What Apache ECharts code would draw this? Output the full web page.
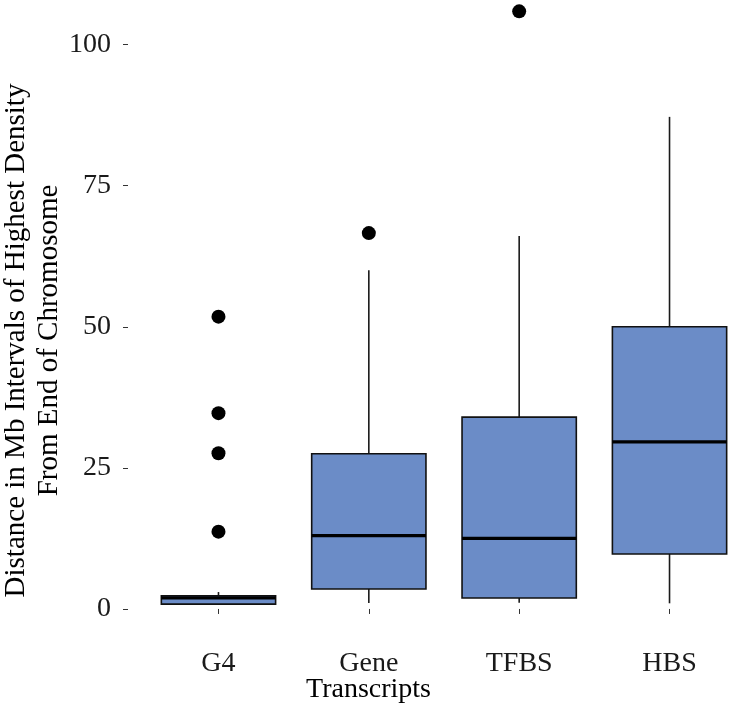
<!DOCTYPE html>
<html>
<head>
<meta charset="utf-8">
<script src="https://cdn.jsdelivr.net/npm/echarts@6/dist/echarts.min.js"></script>
<style>html,body{margin:0;padding:0;background:#fff;overflow:hidden;width:733px;height:716px;position:relative}#c{position:absolute;left:0;top:-18px;width:747px;height:734px}</style>
</head>
<body>
<div id="c"></div>
<script>
const categories = ['G4', 'Gene', 'TFBS', 'HBS'];
// [min, Q1, median, Q3, max]
const boxG4   = [0.8, 0.85, 1.95, 2.35, 3.0];
const boxGene = [1.05, 3.55, 13.0, 27.5, 60.0];
const boxTFBS = [1.1, 1.95, 12.5, 34.0, 66.1];
const boxHBS  = [1.0, 9.75, 29.6, 50.0, 87.2];
const outliersG4 = [51.8, 34.7, 27.6, 13.7];
const outliersGene = [66.6];
const outliersTFBS = [105.9];
const outliersHBS = [];
const yTicks = [0, 25, 50, 75, 100];

const boxes = [boxG4, boxGene, boxTFBS, boxHBS];
const outl = [outliersG4, outliersGene, outliersTFBS, outliersHBS];
const boxData = boxes.map((b, i) => [i].concat(b));
const outData = [];
outl.forEach((arr, i) => arr.forEach(v => outData.push([i, v])));

const font = 'Liberation Serif';
const chart = echarts.init(document.getElementById('c'));

function renderItem(params, api) {
  const x = api.value(0);
  const c = v => api.coord([x, v]);
  const pMin = c(api.value(1)), pQ1 = c(api.value(2)), pMed = c(api.value(3)),
        pQ3 = c(api.value(4)), pMax = c(api.value(5));
  const bw = api.size([1, 0])[0] * 0.76;
  const cx = pMed[0];
  const lw = 1.6;
  return {
    type: 'group',
    children: [
      {type: 'line', shape: {x1: cx, y1: pQ3[1], x2: cx, y2: pMax[1]}, style: {stroke: '#1a1a1a', lineWidth: lw}},
      {type: 'line', shape: {x1: cx, y1: pQ1[1], x2: cx, y2: pMin[1]}, style: {stroke: '#1a1a1a', lineWidth: lw}},
      {type: 'rect', shape: {x: cx - bw / 2, y: pQ3[1], width: bw, height: pQ1[1] - pQ3[1]},
        style: {fill: '#6b8cc7', stroke: '#111', lineWidth: lw}},
      {type: 'line', shape: {x1: cx - bw / 2, y1: pMed[1], x2: cx + bw / 2, y2: pMed[1]},
        style: {stroke: '#000', lineWidth: 3.2}}
    ]
  };
}

chart.setOption({
  animation: false,
  backgroundColor: '#fff',
  grid: {left: 143.3, right: 2.3, top: 0, bottom: 83, containLabel: false, outerBoundsMode: 'none'},
  xAxis: {
    type: 'category',
    data: categories,
    boundaryGap: true,
    axisLine: {show: false},
    axisTick: {show: true, alignWithLabel: true, length: 5, lineStyle: {color: '#333', width: 1}},
    axisLabel: {margin: 17, fontFamily: font, fontSize: 28, color: '#1a1a1a'},
    name: 'Transcripts',
    nameLocation: 'middle',
    nameGap: 43,
    nameMoveOverlap: false,
    nameTextStyle: {fontFamily: font, fontSize: 28, color: '#000', padding: [0, 151, 0, 0]},
    splitLine: {show: false}
  },
  yAxis: {
    type: 'value',
    min: -4.26,
    max: 111.1,
    offset: 15.3,
    axisLine: {show: false},
    axisTick: {show: true, length: 5, customValues: yTicks, lineStyle: {color: '#333', width: 1}},
    axisLabel: {margin: 17, fontFamily: font, fontSize: 28, color: '#1a1a1a', customValues: yTicks},
    splitLine: {show: false},
    name: 'Distance in Mb Intervals of Highest Density\nFrom End of Chromosome',
    nameLocation: 'middle',
    nameRotate: 90,
    nameGap: 62,
    nameMoveOverlap: false,
    nameTextStyle: {fontFamily: font, fontSize: 29, color: '#000', lineHeight: 33, padding: [0, 66, 0, 0]}
  },
  series: [
    {
      type: 'custom',
      renderItem: renderItem,
      data: boxData,
      encode: {x: 0, y: [1, 2, 3, 4, 5]},
      clip: false
    },
    {
      type: 'scatter',
      data: outData,
      symbol: 'circle',
      symbolSize: 14,
      itemStyle: {color: '#000', opacity: 1}
    }
  ]
});
</script>
</body>
</html>
